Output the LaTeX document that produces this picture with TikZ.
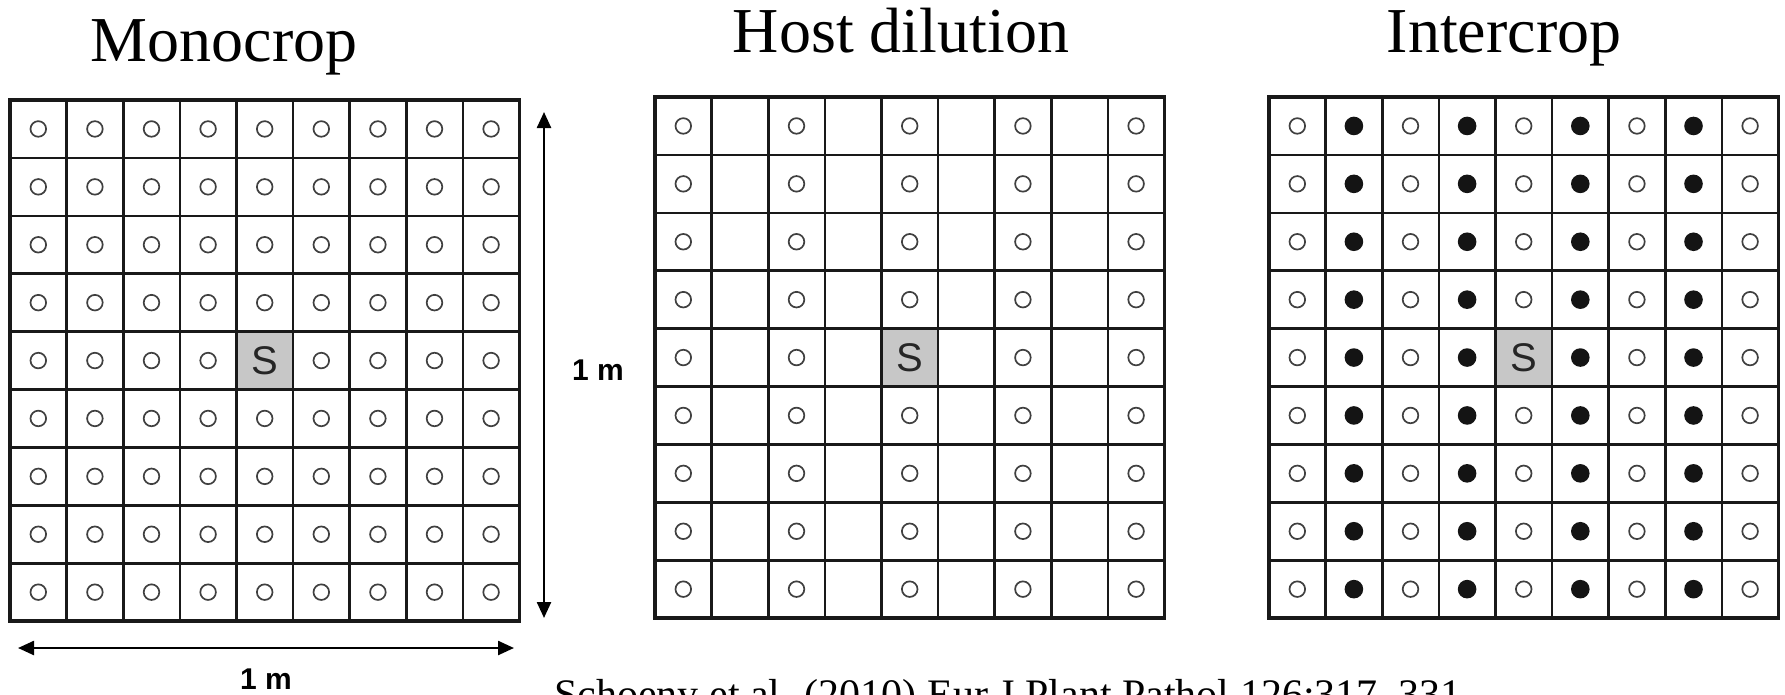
\documentclass[tikz,border=0pt]{standalone}
\usepackage{fontspec}
\setmainfont{Liberation Serif}
\newfontfamily\arialfont{Liberation Sans}
\usetikzlibrary{arrows.meta}
\def\cw{56.6}
\def\ch{57.9}
\begin{document}
\begin{tikzpicture}[x=1pt,y=-1pt,
  gridline/.style={line width=2.6pt, black!90},
  border/.style={line width=3.5pt, black!90},
  opendot/.style={draw=black!75, line width=1.7pt, fill=white},
  filldot/.style={fill=black!92},
  scell/.style={fill=black!22},
  stext/.style={font=\arialfont\fontsize{40}{44}\selectfont, text=black!85, inner sep=0pt},
  title/.style={font=\fontsize{64}{70}\selectfont, anchor=base, inner sep=0pt},
  dimlabel/.style={font=\arialfont\bfseries\fontsize{30}{34}\selectfont, anchor=base, inner sep=0pt},
  dimarrow/.style={line width=2.4pt, {Triangle[length=16pt,width=14pt]}-{Triangle[length=16pt,width=14pt]}},
]
\useasboundingbox (0,0) rectangle (1785,694);
\clip (0,0) rectangle (1785,694);

% titles
\node[title] (tmono) at (224,61) {Monocrop};
\node[title] (thost) at (901,52) {Host dilution};
\node[title] (tinter) at (1504,52) {Intercrop};

% Monocrop grid
\begin{scope}[shift={(10,100)}]
  \foreach \c in {0,...,8} \foreach \r in {0,...,8}
    \draw[opendot] ({(\c+0.5)*\cw},{(\r+0.5)*\ch}) circle[radius=7.8pt];
  \fill[scell] (4*\cw,4*\ch) rectangle (5*\cw,5*\ch);
  \foreach \i in {1,...,8} {
    \draw[gridline] (\i*\cw,0) -- (\i*\cw,9*\ch);
    \draw[gridline] (0,\i*\ch) -- (9*\cw,\i*\ch);
  }
  \draw[border] (0,0) rectangle (9*\cw,9*\ch);
  \node[stext] (smono) at (4.5*\cw,4.5*\ch) {S};
\end{scope}

% Host dilution grid
\begin{scope}[shift={(655,97)}]
  \foreach \c in {0,2,4,6,8} \foreach \r in {0,...,8}
    \draw[opendot] ({(\c+0.5)*\cw},{(\r+0.5)*\ch}) circle[radius=7.8pt];
  \fill[scell] (4*\cw,4*\ch) rectangle (5*\cw,5*\ch);
  \foreach \i in {1,...,8} {
    \draw[gridline] (\i*\cw,0) -- (\i*\cw,9*\ch);
    \draw[gridline] (0,\i*\ch) -- (9*\cw,\i*\ch);
  }
  \draw[border] (0,0) rectangle (9*\cw,9*\ch);
  \node[stext] (shost) at (4.5*\cw,4.5*\ch) {S};
\end{scope}

% Intercrop grid
\begin{scope}[shift={(1269,97)}]
  \foreach \c in {0,2,4,6,8} \foreach \r in {0,...,8}
    \draw[opendot] ({(\c+0.5)*\cw},{(\r+0.5)*\ch}) circle[radius=7.8pt];
  \foreach \c in {1,3,5,7} \foreach \r in {0,...,8}
    \fill[filldot] ({(\c+0.5)*\cw},{(\r+0.5)*\ch}) circle[radius=9.3pt];
  \fill[scell] (4*\cw,4*\ch) rectangle (5*\cw,5*\ch);
  \foreach \i in {1,...,8} {
    \draw[gridline] (\i*\cw,0) -- (\i*\cw,9*\ch);
    \draw[gridline] (0,\i*\ch) -- (9*\cw,\i*\ch);
  }
  \draw[border] (0,0) rectangle (9*\cw,9*\ch);
  \node[stext] (sinter) at (4.5*\cw,4.5*\ch) {S};
\end{scope}

% dimension arrows
\coordinate (vtop) at (544,112);
\coordinate (vbot) at (544,618);
\draw[dimarrow] (vbot) -- (vtop);
\node[dimlabel] (lblv) at (598,380) {1 m};

\coordinate (hleft) at (18,648);
\coordinate (hright) at (514,648);
\draw[dimarrow] (hleft) -- (hright);
\node[dimlabel] (lblh) at (266,689) {1 m};

% citation
\node[anchor=base west, inner sep=0pt, font=\fontsize{42}{46}\selectfont] (cite) at (554,708)
  {Schoeny et al. (2010) Eur J Plant Pathol 126:317--331};
\end{tikzpicture}
\end{document}
